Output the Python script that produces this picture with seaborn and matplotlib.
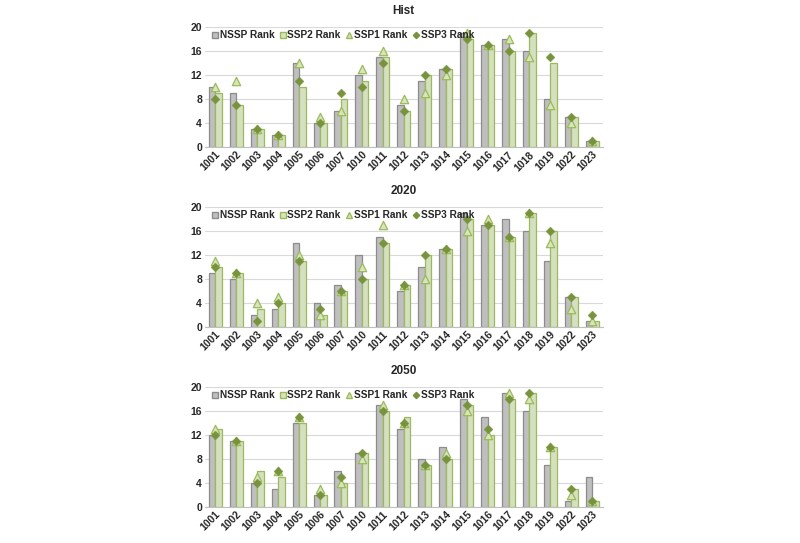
import matplotlib
matplotlib.use('Agg')
import matplotlib.pyplot as plt
import seaborn as sns
import pandas as pd
from matplotlib.lines import Line2D

sites = ['1001', '1002', '1003', '1004', '1005', '1006', '1007', '1010', '1011', '1012',
         '1013', '1014', '1015', '1016', '1017', '1018', '1019', '1022', '1023']

# Hist
hist_nssp = [10, 9, 3, 2, 14, 4, 6, 12, 15, 7, 11, 13, 19, 17, 18, 16, 8, 5, 1]
hist_ssp2 = [9, 7, 3, 2, 10, 4, 8, 11, 15, 6, 12, 13, 18, 17, 16, 19, 14, 5, 1]
hist_ssp1 = [10, 11, 3, 2, 14, 5, 6, 13, 16, 8, 9, 12, 19, 17, 18, 15, 7, 4, 1]
hist_ssp3 = [8, 7, 3, 2, 11, 4, 9, 10, 14, 6, 12, 13, 18, 17, 16, 19, 15, 5, 1]

# 2020
y2020_nssp = [9, 8, 2, 3, 14, 4, 7, 12, 15, 6, 10, 13, 19, 17, 18, 16, 11, 5, 1]
y2020_ssp2 = [10, 9, 3, 4, 11, 2, 6, 8, 14, 7, 12, 13, 18, 17, 15, 19, 16, 5, 1]
y2020_ssp1 = [11, 9, 4, 5, 12, 2, 6, 10, 17, 7, 8, 13, 16, 18, 15, 19, 14, 3, 1]
y2020_ssp3 = [10, 9, 1, 4, 11, 3, 6, 8, 14, 7, 12, 13, 18, 17, 15, 19, 16, 5, 2]

# 2050
y2050_nssp = [12, 11, 4, 3, 14, 2, 6, 9, 17, 13, 8, 10, 18, 15, 19, 16, 7, 1, 5]
y2050_ssp2 = [13, 11, 6, 5, 14, 2, 4, 9, 16, 15, 7, 8, 17, 12, 18, 19, 10, 3, 1]
y2050_ssp1 = [13, 11, 5, 6, 15, 3, 4, 8, 17, 14, 7, 9, 16, 12, 19, 18, 10, 2, 1]
y2050_ssp3 = [12, 11, 4, 6, 15, 2, 5, 9, 16, 14, 7, 8, 17, 13, 18, 19, 10, 3, 1]

panels = [
    ('Hist', hist_nssp, hist_ssp2, hist_ssp1, hist_ssp3),
    ('2020', y2020_nssp, y2020_ssp2, y2020_ssp1, y2020_ssp3),
    ('2050', y2050_nssp, y2050_ssp2, y2050_ssp1, y2050_ssp3),
]

gray_fill, gray_edge = '#BFBFBF', '#8C8C8C'
green_fill, green_edge = '#D7E4BD', '#9BBB59'
dark_green = '#77933C'

sns.set_style('white')
plt.rcParams['font.family'] = ['Liberation Sans', 'DejaVu Sans']
plt.rcParams['font.weight'] = 'bold'

fig = plt.figure(figsize=(8, 5.43), dpi=100)
bottoms = [0.7298, 0.3984, 0.0669]

for (title, nssp, ssp2, ssp1, ssp3), bottom in zip(panels, bottoms):
    ax = fig.add_axes([0.256, bottom, 0.4975, 0.221])

    bars = pd.DataFrame({
        'Site': sites * 2,
        'Rank': nssp + ssp2,
        'Scenario': ['NSSP Rank'] * len(sites) + ['SSP2 Rank'] * len(sites),
    })
    pts = pd.DataFrame({'Site': sites, 'SSP1': ssp1, 'SSP3': ssp3})

    sns.barplot(data=bars, x='Site', y='Rank', hue='Scenario', order=sites,
                hue_order=['NSSP Rank', 'SSP2 Rank'],
                palette=[gray_fill, green_fill], width=0.62, gap=0,
                linewidth=0.9, legend=False, ax=ax, zorder=2)
    # bar edge colours
    for patch in ax.patches:
        fc = matplotlib.colors.to_hex(patch.get_facecolor())
        patch.set_edgecolor(gray_edge if fc == gray_fill.lower() else green_edge)

    sns.stripplot(data=pts, x='Site', y='SSP1', order=sites, jitter=False,
                  marker='^', size=6, color=green_fill, edgecolor=green_edge,
                  linewidth=0.9, ax=ax, zorder=3)
    sns.stripplot(data=pts, x='Site', y='SSP3', order=sites, jitter=False,
                  marker='D', size=4.5, color=dark_green, edgecolor=dark_green,
                  linewidth=0.3, ax=ax, zorder=4)

    ax.set_ylim(0, 20)
    ax.set_yticks(range(0, 21, 4))
    ax.set_xlim(-0.5, len(sites) - 0.5)
    ax.set_xlabel('')
    ax.set_ylabel('')
    ax.grid(axis='y', color='#D9D9D9', linewidth=0.8, zorder=0)
    ax.set_axisbelow(True)
    for s in ['left', 'right', 'top']:
        ax.spines[s].set_visible(False)
    ax.spines['bottom'].set_color('#BFBFBF')
    ax.tick_params(axis='both', length=0, labelsize=7.5, pad=2)
    plt.setp(ax.get_xticklabels(), rotation=45, ha='right', rotation_mode='anchor')
    ax.set_title(title, fontsize=8.5, fontweight='bold', pad=9)

    handles = [
        Line2D([], [], linestyle='none', marker='s', markersize=4,
               markerfacecolor=gray_fill, markeredgecolor=gray_edge),
        Line2D([], [], linestyle='none', marker='s', markersize=4,
               markerfacecolor=green_fill, markeredgecolor=green_edge),
        Line2D([], [], linestyle='none', marker='^', markersize=4.5,
               markerfacecolor=green_fill, markeredgecolor=green_edge),
        Line2D([], [], linestyle='none', marker='D', markersize=3.2,
               markerfacecolor=dark_green, markeredgecolor=dark_green),
    ]
    ax.legend(handles, ['NSSP Rank', 'SSP2 Rank', 'SSP1 Rank', 'SSP3 Rank'],
              loc='upper left', bbox_to_anchor=(0.0, 1.03), ncol=4, frameon=False,
              fontsize=7.3, handlelength=0.6, handletextpad=0.15, columnspacing=0.55,
              borderpad=0.2)

fig.savefig('out.png', dpi=100, facecolor='white')
